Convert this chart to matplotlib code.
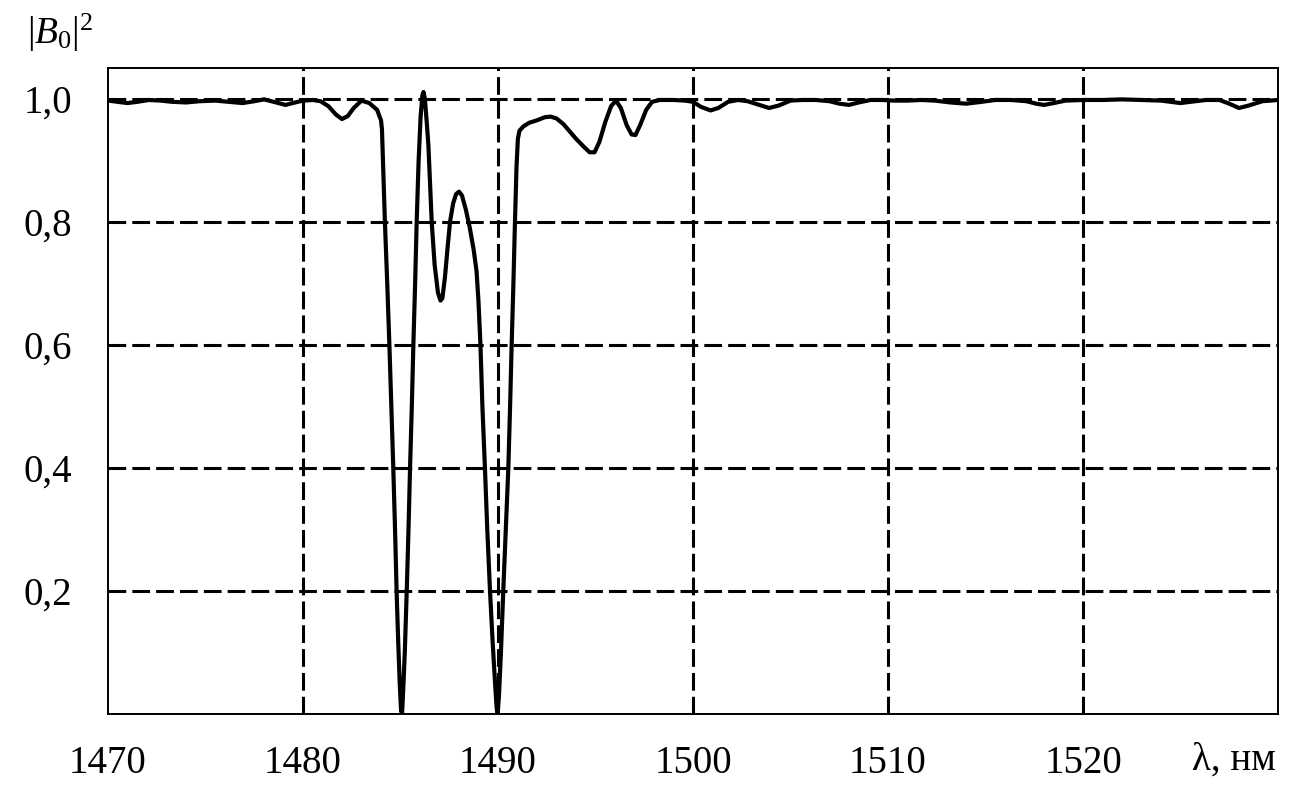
import matplotlib
matplotlib.use('Agg')
import matplotlib.pyplot as plt

# Длина волны, нм
lam = [1470.0, 1470.5, 1471.0, 1471.5, 1472.1, 1472.7, 1473.3, 1474.0, 1474.7, 1475.5,
       1476.2, 1476.9, 1477.5, 1478.0, 1478.5, 1479.1, 1479.6, 1480.0, 1480.5, 1480.9,
       1481.3, 1481.7, 1482.0, 1482.3, 1482.6, 1483.0, 1483.4, 1483.8, 1484.0, 1484.05,
       1484.12, 1484.2, 1484.32, 1484.43, 1484.53, 1484.63, 1484.72, 1484.8, 1484.88, 1484.96,
       1485.03, 1485.08, 1485.14, 1485.22, 1485.32, 1485.41, 1485.49, 1485.58, 1485.66, 1485.75,
       1485.83, 1485.93, 1486.03, 1486.12, 1486.18, 1486.25, 1486.35, 1486.43, 1486.52, 1486.6,
       1486.75, 1486.92, 1487.05, 1487.15, 1487.28, 1487.42, 1487.54, 1487.7, 1487.85, 1488.0,
       1488.15, 1488.35, 1488.56, 1488.75, 1488.9, 1489.0, 1489.1, 1489.2, 1489.33, 1489.45,
       1489.59, 1489.72, 1489.85, 1489.93, 1489.98, 1490.05, 1490.15, 1490.27, 1490.4, 1490.53,
       1490.62, 1490.7, 1490.79, 1490.87, 1490.95, 1491.02, 1491.1, 1491.3, 1491.6, 1492.0,
       1492.4, 1492.7, 1493.0, 1493.35, 1493.7, 1494.0, 1494.4, 1494.7, 1494.95, 1495.2,
       1495.5, 1495.8, 1496.05, 1496.3, 1496.6, 1496.85, 1497.05, 1497.3, 1497.6, 1497.9,
       1498.3, 1499.0, 1499.6, 1500.0, 1500.4, 1500.9, 1501.3, 1501.8, 1502.3, 1502.8,
       1503.3, 1503.9, 1504.4, 1505.0, 1505.6, 1506.3, 1507.0, 1507.5, 1508.0, 1508.5,
       1509.1, 1509.7, 1510.3, 1511.0, 1511.7, 1512.4, 1513.2, 1514.0, 1514.8, 1515.5,
       1516.3, 1517.1, 1517.6, 1518.0, 1518.5, 1519.1, 1520.0, 1521.0, 1522.0, 1523.0,
       1524.0, 1524.5, 1525.0, 1525.5, 1526.3, 1527.0, 1527.5, 1528.0, 1528.5, 1529.2,
       1530.0]

# |B0|^2
b0 = [0.997, 0.995, 0.993, 0.995, 0.998, 0.997, 0.995, 0.994, 0.996, 0.997,
      0.995, 0.993, 0.996, 0.999, 0.995, 0.990, 0.994, 0.997, 0.998, 0.996,
      0.988, 0.974, 0.967, 0.972, 0.985, 0.997, 0.993, 0.982, 0.965, 0.950,
      0.88, 0.80, 0.70, 0.60, 0.50, 0.40, 0.30, 0.20, 0.12, 0.05,
      0.005, 0.0, 0.04, 0.10, 0.20, 0.30, 0.40, 0.50, 0.60, 0.70,
      0.80, 0.90, 0.97, 1.005, 1.011, 1.000, 0.96, 0.925, 0.86, 0.80,
      0.73, 0.685, 0.672, 0.676, 0.71, 0.76, 0.80, 0.83, 0.845, 0.849,
      0.843, 0.82, 0.789, 0.755, 0.72, 0.67, 0.60, 0.50, 0.40, 0.30,
      0.20, 0.12, 0.05, 0.01, 0.0, 0.03, 0.10, 0.20, 0.30, 0.40,
      0.50, 0.60, 0.70, 0.80, 0.89, 0.935, 0.948, 0.955, 0.961, 0.965,
      0.970, 0.971, 0.968, 0.959, 0.946, 0.935, 0.922, 0.913, 0.913, 0.93,
      0.962, 0.988, 0.997, 0.985, 0.957, 0.942, 0.941, 0.958, 0.982, 0.995,
      0.998, 0.998, 0.997, 0.995, 0.987, 0.981, 0.985, 0.995, 0.998, 0.996,
      0.991, 0.985, 0.989, 0.997, 0.998, 0.998, 0.996, 0.992, 0.990, 0.994,
      0.998, 0.998, 0.997, 0.997, 0.998, 0.997, 0.994, 0.992, 0.995, 0.998,
      0.998, 0.996, 0.992, 0.990, 0.993, 0.997, 0.998, 0.998, 0.999, 0.998,
      0.997, 0.995, 0.993, 0.995, 0.998, 0.998, 0.992, 0.985, 0.989, 0.996,
      0.998]

xticks = [1470, 1480, 1490, 1500, 1510, 1520]
yticks = [0.2, 0.4, 0.6, 0.8, 1.0]
ytick_labels = ['0,2', '0,4', '0,6', '0,8', '1,0']

plt.rcParams['font.family'] = ['Liberation Serif', 'DejaVu Serif']
plt.rcParams['mathtext.fontset'] = 'custom'
plt.rcParams['mathtext.rm'] = 'Liberation Serif'
plt.rcParams['mathtext.it'] = 'Liberation Serif:italic'

fig = plt.figure(figsize=(13.11, 7.98), dpi=100)
ax = fig.add_axes([108 / 1311, 1 - 714 / 798, 1170 / 1311, 646 / 798])

ax.plot(lam, b0, color='black', linewidth=3.0, solid_joinstyle='round', zorder=3)

# сетка
for xv in [1480, 1490, 1500, 1510, 1520]:
    ax.axvline(xv, color='black', linewidth=2.2, dashes=(5.8, 2.0), zorder=1)
for yv in yticks:
    ax.axhline(yv, color='black', linewidth=2.2, dashes=(5.8, 2.0), zorder=1)

ax.set_xlim(1470, 1530)
ax.set_ylim(0, 1.05)
ax.set_xticks(xticks)
ax.set_xticklabels([str(v) for v in xticks])
ax.set_yticks(yticks)
ax.set_yticklabels(ytick_labels)
ax.tick_params(length=0, labelsize=28)
ax.tick_params(axis='x', pad=22)
ax.tick_params(axis='y', pad=26)
for s in ax.spines.values():
    s.set_linewidth(1.4)

fig.text(60 / 1311, 1 - 33 / 798, r'$|B_0|^2$', fontsize=27, ha='center', va='center')
fig.text(1276 / 1311, 1 - 760 / 798, 'λ, нм', fontsize=28, ha='right', va='center')

fig.savefig('out.png', dpi=100)
